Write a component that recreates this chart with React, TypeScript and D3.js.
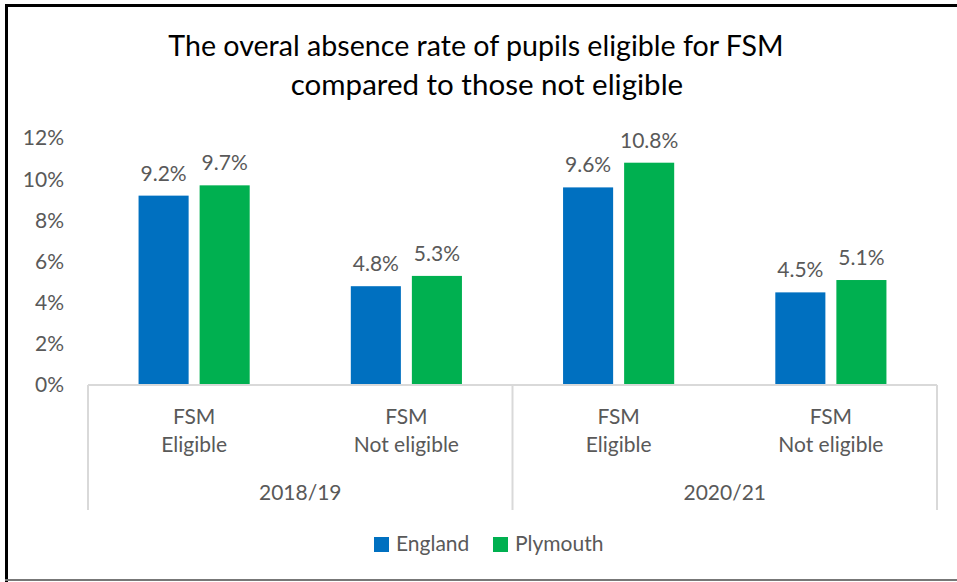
import React from "react";
import * as d3 from "d3";

const years = ["2018/19", "2020/21"];
const groups = ["FSM Eligible", "FSM Not eligible"];
const categoryLines = [["FSM", "Eligible"], ["FSM", "Not eligible"]];
const seriesNames = ["England", "Plymouth"];
const england = [9.2, 4.8, 9.6, 4.5];
const plymouth = [9.7, 5.3, 10.8, 5.1];
const yTicks = [0, 2, 4, 6, 8, 10, 12];
const colors = ["#0070C0", "#00B050"];

const W = 957, H = 582;
const FONT = "Lato, 'Open Sans', sans-serif";
const TXT = "#595959";

export default function App() {
  const left = 88, right = 937, top = 138, bottom = 385;
  const cats = years.flatMap((y) => groups.map((g) => `${y}|${g}`));
  const x = d3.scaleBand().domain(cats).range([left, right]).padding(0);
  const y = d3.scaleLinear().domain([0, 12]).range([bottom, top]);
  const inner = d3.scaleBand().domain(seriesNames).range([0, x.bandwidth()]).paddingInner(0.18).paddingOuter(0.828);
  const series = [england, plymouth];
  const yearX = d3.scaleBand().domain(years).range([left, right]);

  return (
    <div style={{ position: "absolute", left: 0, top: 0 }}>
      <svg width={W} height={H} style={{ display: "block" }}>
        <rect x={0} y={0} width={W} height={H} fill="#fff" />
        <rect x={5} y={4} width={W} height={3} fill="#000" />
        <rect x={5} y={4} width={3} height={H} fill="#000" />
        <rect x={5} y={579} width={W} height={2} fill="#777" />
        <text x={476} y={56} textAnchor="middle" fontFamily={FONT} fontSize={28.6} fill="#000">
          The overal absence rate of pupils eligible for FSM
        </text>
        <text x={487} y={95} textAnchor="middle" fontFamily={FONT} fontSize={29.5} fill="#000">
          compared to those not eligible
        </text>
        {yTicks.map((t) => (
          <text key={t} x={64} y={y(t)} dy="0.35em" textAnchor="end" fontFamily={FONT} fontSize={21} fill={TXT}>
            {t}%
          </text>
        ))}
        {cats.map((c, i) =>
          series.map((s, si) => {
            const bx = (x(c) as number) + (inner(seriesNames[si]) as number);
            return (
              <g key={c + si}>
                <rect x={bx} y={y(s[i])} width={inner.bandwidth()} height={bottom - y(s[i])} fill={colors[si]} />
                <text x={bx + inner.bandwidth() / 2} y={y(s[i]) - 15} textAnchor="middle" fontFamily={FONT} fontSize={21} fill={TXT}>
                  {s[i].toFixed(1)}%
                </text>
              </g>
            );
          })
        )}
        <line x1={left} y1={bottom} x2={right} y2={bottom} stroke="#D9D9D9" strokeWidth={2} />
        {[left, (yearX("2020/21") as number), right].map((vx, i) => (
          <line key={i} x1={vx} y1={bottom} x2={vx} y2={510} stroke="#D9D9D9" strokeWidth={2} />
        ))}
        {cats.map((c, i) => {
          const cx = (x(c) as number) + x.bandwidth() / 2;
          const lines = categoryLines[i % 2];
          return (
            <g key={c}>
              <text x={cx} y={424} textAnchor="middle" fontFamily={FONT} fontSize={21} fill={TXT}>{lines[0]}</text>
              <text x={cx} y={452} textAnchor="middle" fontFamily={FONT} fontSize={21} fill={TXT}>{lines[1]}</text>
            </g>
          );
        })}
        {years.map((yr) => (
          <text key={yr} x={(yearX(yr) as number) + yearX.bandwidth() / 2} y={500} textAnchor="middle" fontFamily={FONT} fontSize={21} fill={TXT}>
            {yr}
          </text>
        ))}
        {seriesNames.map((n, i) => {
          const lx = i === 0 ? 374 : 493;
          return (
            <g key={n}>
              <rect x={lx} y={537} width={15} height={15} fill={colors[i]} />
              <text x={lx + 22} y={551} fontFamily={FONT} fontSize={21} fill={TXT}>{n}</text>
            </g>
          );
        })}
      </svg>
    </div>
  );
}
